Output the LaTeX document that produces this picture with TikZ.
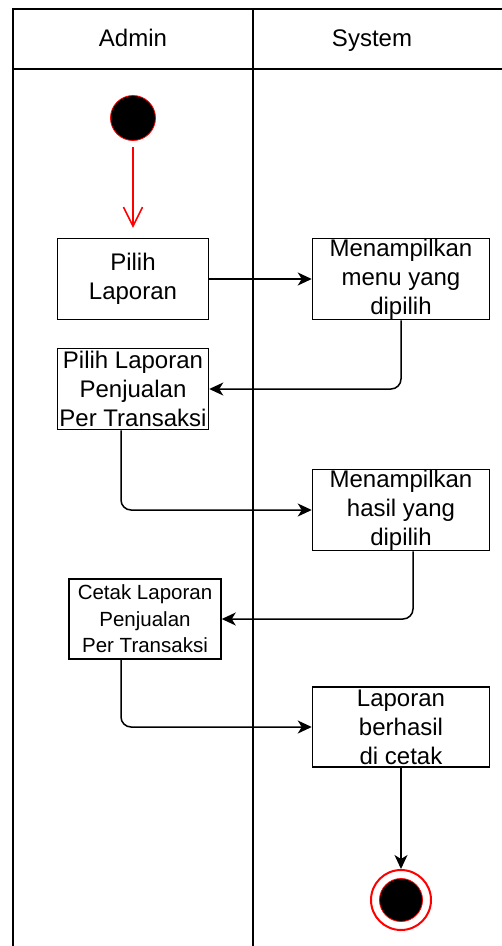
\documentclass[tikz,border=0pt]{standalone}
\usepackage{fontspec}
\setmainfont{Liberation Sans}
\usepackage{tikz}
\usetikzlibrary{
  % relative placement
  positioning,%
  calc,%
  % enables the arrow tips
  arrows.meta
}
\tikzset{>={Stealth[length=14pt, width=13pt, inset=4pt]}}
\tikzset{font=\fontsize{24}{29}\selectfont}
\tikzset{lane/.style={line width=1.6pt},
  act/.style={draw, line width=1.5pt, minimum width=151pt, minimum height=81pt, inner sep=0pt},
  acttext/.style={align=center, inner sep=0pt},
  flow/.style={->, line width=1.5pt, rounded corners=10pt}}

\begin{document}
\begin{tikzpicture}[x=1pt, y=-1pt]
        \useasboundingbox (0,0) rectangle (502,946);
        \clip (0,0) rectangle (502,946);
        % swimlanes
        \draw[lane] (13,960) -- (13,9) -- (520,9);
        \draw[lane] (13,69) -- (520,69);
        \draw[lane] (253,9) -- (253,960);
        \node[anchor=base] (hadmin) at (133,46) {Admin};
        \node[anchor=base] (hsystem) at (372,46) {System};
        % start and end
        \node[circle, fill=black, draw=red, line width=0.8pt, minimum size=45pt, inner sep=0pt] (start) at (133,118) {};
        \node[circle, draw=red, line width=2pt, minimum size=60pt, inner sep=0pt] (stopring) at (401,900) {};
        \node[circle, fill=black, draw=red, line width=0.8pt, minimum size=43pt, inner sep=0pt] (stop) at (401,900) {};
        % activities
        \node[act] (pilih) at (133,279) {};
        \node[act, minimum width=177pt] (menu) at (401,279) {};
        \node[act] (penjualan) at (133,389) {};
        \node[act, minimum width=177pt] (hasil) at (401,510) {};
        \node[act, minimum width=152pt, minimum height=80pt] (cetak) at (145,619) {};
        \node[act, minimum width=177pt, minimum height=80pt] (berhasil) at (401,727) {};
        \node[acttext] (tpilih) at (pilih) {Pilih\\Laporan};
        \node[acttext] (tmenu) at (menu) {Menampilkan\\menu yang\\dipilih};
        \node[acttext] (tpenjualan) at (penjualan) {Pilih Laporan\\Penjualan\\Per Transaksi};
        \node[acttext] (thasil) at (hasil) {Menampilkan\\hasil yang\\dipilih};
        \node[acttext, font=\fontsize{20.5}{26.5}\selectfont] (tcetak) at (cetak) {Cetak Laporan\\Penjualan\\Per Transaksi};
        \node[acttext] (tberhasil) at (berhasil) {Laporan\\berhasil\\di cetak};
        % flows
        \draw[red, line width=1.5pt, -{Straight Barb[length=19pt, width=19pt]}, shorten <=6pt, shorten >=10pt] (start) -- (pilih);
        \draw[flow] (pilih) -- (menu);
        \draw[flow] (menu.south) |- (penjualan.east);
        \draw[flow] ([xshift=-12pt]penjualan.south) |- (hasil.west);
        \draw[flow] ([xshift=12pt]hasil.south) |- (cetak.east);
        \draw[flow] ([xshift=-24pt]cetak.south) |- (berhasil.west);
        \draw[flow] (berhasil) -- (stopring);
      \end{tikzpicture}
\end{document}
